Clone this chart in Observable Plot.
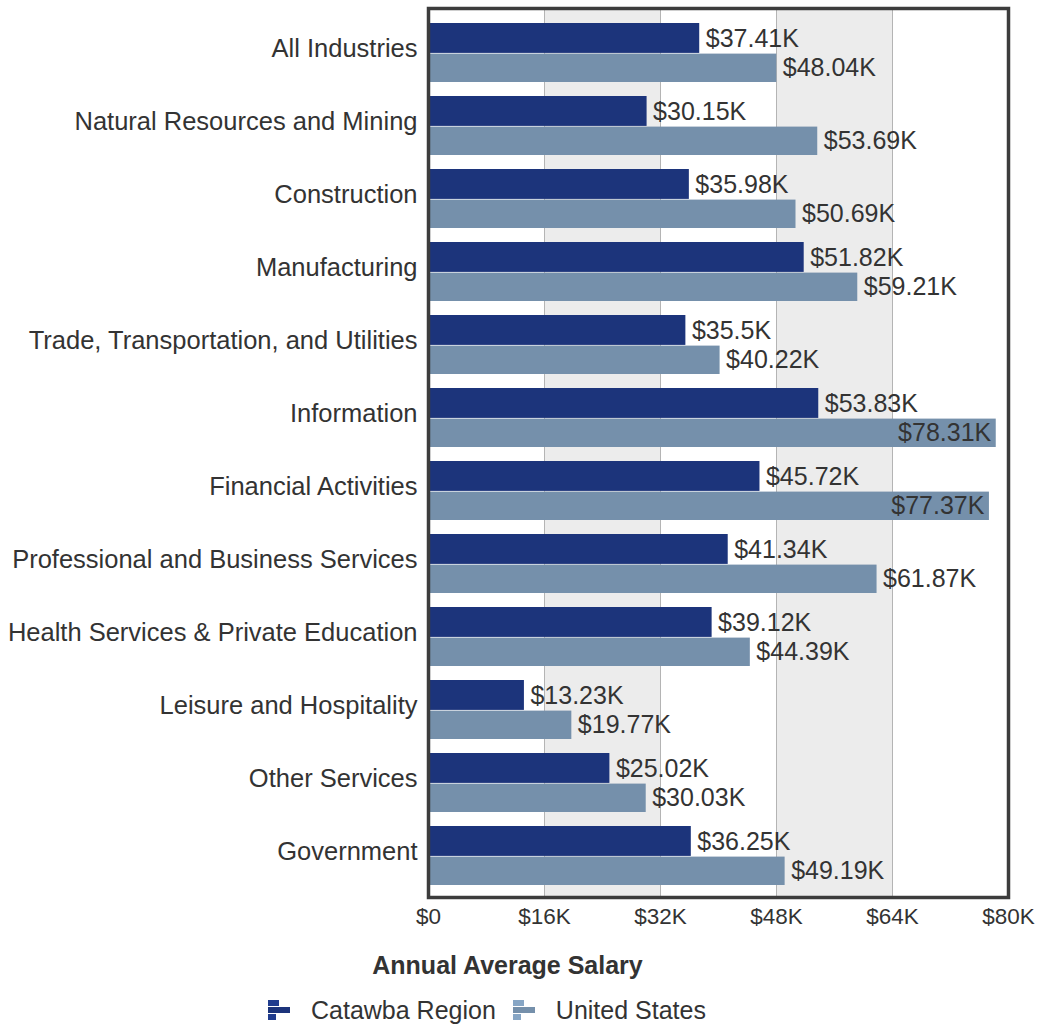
<!DOCTYPE html>
<html>
<head>
<meta charset="utf-8">
<script src="https://cdn.jsdelivr.net/npm/d3@7"></script>
<script src="https://cdn.jsdelivr.net/npm/@observablehq/plot@0.6"></script>
<style>
  html, body { margin: 0; padding: 0; background: #fff; }
  body { width: 1042px; font-family: "Liberation Sans", Arial, sans-serif; }
  #legend { display: flex; align-items: center; margin-left: 268px; height: 40px; font-size: 25px; color: #333; }
  #legend .item { display: flex; align-items: center; margin-right: 17px; }
  #legend svg { margin-right: 21px; }
</style>
</head>
<body>
<div id="chart"></div>
<div id="legend"></div>
<script>
const categories = [
  "All Industries",
  "Natural Resources and Mining",
  "Construction",
  "Manufacturing",
  "Trade, Transportation, and Utilities",
  "Information",
  "Financial Activities",
  "Professional and Business Services",
  "Health Services & Private Education",
  "Leisure and Hospitality",
  "Other Services",
  "Government"
];
const seriesNames = ["Catawba Region", "United States"];
const catawba = [37.41, 30.15, 35.98, 51.82, 35.5, 53.83, 45.72, 41.34, 39.12, 13.23, 25.02, 36.25];
const us = [48.04, 53.69, 50.69, 59.21, 40.22, 78.31, 77.37, 61.87, 44.39, 19.77, 30.03, 49.19];
const xTicks = [0, 16, 32, 48, 64, 80];
const colors = ["#1c347b", "#7590ab"];

const fmt = v => `$${+v.toFixed(2)}K`;
const tickFmt = d => d === 0 ? "$0" : `$${d}K`;

const dataC = categories.map((c, i) => ({category: c, value: catawba[i]}));
const dataU = categories.map((c, i) => ({category: c, value: us[i]}));
const bands = [];
for (let i = 1; i < xTicks.length - 1; i += 2) bands.push({x1: xTicks[i], x2: xTicks[i + 1]});
const grid = xTicks.slice(1, -1);

const xMax = xTicks[xTicks.length - 1];
const inside = d => d.value > xMax - 10;

const chart = Plot.plot({
  width: 1042,
  height: 990,
  marginTop: 8,
  marginBottom: 93,
  marginLeft: 428,
  marginRight: 34,
  style: {fontFamily: "'Liberation Sans', Arial, sans-serif", background: "white", color: "#333"},
  x: {domain: [0, xMax], ticks: xTicks, tickFormat: tickFmt, label: null},
  y: {domain: categories, padding: 0, insetTop: 7, insetBottom: 5, label: null},
  marks: [
    Plot.rect(bands, {x1: "x1", x2: "x2", fill: "#ececec"}),
    Plot.ruleX(grid, {stroke: "#b4b4b4", strokeWidth: 1}),
    Plot.barX(dataC, {x: "value", y: "category", fill: colors[0], insetTop: 7, insetBottom: 36.1}),
    Plot.barX(dataU, {x: "value", y: "category", fill: colors[1], insetTop: 37.6, insetBottom: 7}),
    Plot.text(dataC, {x: "value", y: "category", text: d => fmt(d.value), textAnchor: "start", dx: 6, dy: -14.5, fontSize: 25, fill: "#333"}),
    Plot.text(dataU.filter(d => !inside(d)), {x: "value", y: "category", text: d => fmt(d.value), textAnchor: "start", dx: 6, dy: 15.3, fontSize: 25, fill: "#333"}),
    Plot.text(dataU.filter(inside), {x: "value", y: "category", text: d => fmt(d.value), textAnchor: "end", dx: -5, dy: 15.3, fontSize: 25, fill: "#333"}),
    Plot.frame({stroke: "#3c3c3c", strokeWidth: 3.5}),
    Plot.axisX({ticks: xTicks, tickFormat: tickFmt, tickSize: 0, tickPadding: 11, fontSize: 22.5, label: null}),
    Plot.axisY({tickSize: 0, tickPadding: 11, fontSize: 25.5, dy: -4, label: null}),
    Plot.text(["Annual Average Salary"], {frameAnchor: "bottom", lineAnchor: "middle", dy: 68, dx: -211, fontSize: 25, fontWeight: "bold", fill: "#333"})
  ]
});
document.getElementById("chart").appendChild(chart);

const legend = document.getElementById("legend");
seriesNames.forEach((name, i) => {
  const item = document.createElement("div");
  item.className = "item";
  const c = d3.color(colors[i]);
  const c2 = c.brighter(0.4).formatHex();
  item.innerHTML = `<svg width="22" height="22" viewBox="0 0 22 22">
    <rect x="0" y="1" width="11" height="6" fill="${c2}"/>
    <rect x="0" y="8" width="22" height="6" fill="${colors[i]}"/>
    <rect x="0" y="15" width="8" height="6" fill="${c2}"/>
  </svg><span>${name}</span>`;
  legend.appendChild(item);
});
</script>
</body>
</html>
